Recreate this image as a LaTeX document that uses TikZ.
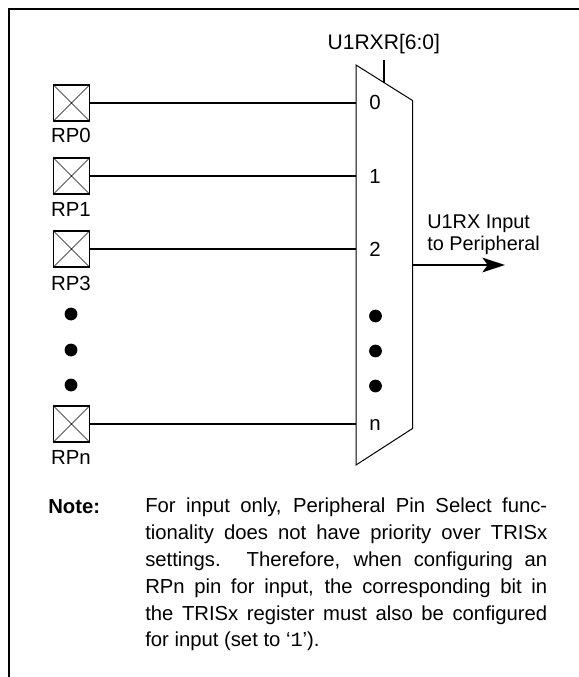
\documentclass[tikz,border=0pt]{standalone}
\usepackage{fontspec}
\setmainfont{Liberation Sans}
\newfontfamily\cmono{Liberation Mono}
\usetikzlibrary{arrows.meta}
\tikzset{
 x=0.75pt,y=-0.75pt,
 frameline/.style={line width=1.5pt,line cap=rect},
 wire/.style={line width=1.05pt},
 muxline/.style={line width=0.75pt,line join=miter},
 pinbox/.style={draw,line width=1.1pt,minimum width=27pt,minimum height=27pt,inner sep=0pt,outer sep=0pt,
   path picture={\draw[line width=0.5pt] (path picture bounding box.north west)--(path picture bounding box.south east)
   (path picture bounding box.north east)--(path picture bounding box.south west);}},
 pinlabel/.style={font=\fontsize{15.3pt}{17pt}\selectfont,inner sep=0pt,anchor=center},
 dotmark/.style={circle,fill=black,minimum size=9.6pt,inner sep=0pt,outer sep=0pt},
 muxlabel/.style={font=\fontsize{15.3pt}{17pt}\selectfont,inner sep=0pt},
 notetext/.style={font=\fontsize{15.2pt}{20.1pt}\selectfont,inner sep=0pt,anchor=north west,text width=301.5pt,align=justify},
}
\begin{document}
\begin{tikzpicture}
\useasboundingbox (0,0) rectangle (578,677);
\coordinate (ftl) at (9,9);
\coordinate (ftr) at (578,9);
\coordinate (fbl) at (9,677);
\draw[frameline] (ftr)--(ftl)--(fbl);
\coordinate (m1) at (356,65);
\coordinate (m2) at (412.5,100.5);
\coordinate (m3) at (412.5,428.5);
\coordinate (m4) at (356,465);
\node[pinbox] (p0) at (71.5,103) {};
\node[pinbox] (p1) at (71.5,176) {};
\node[pinbox] (p2) at (71.5,249) {};
\node[pinbox] (pn) at (71.5,424) {};
\node[pinlabel] (lp0) at (71,135) {RP0};
\node[pinlabel] (lp1) at (71,209) {RP1};
\node[pinlabel] (lp2) at (71,283) {RP3};
\node[pinlabel] (lpn) at (71,457.5) {RPn};
\node[dotmark] (d1) at (71,314) {};
\node[dotmark] (d2) at (71,350) {};
\node[dotmark] (d3) at (71,385) {};
\node[dotmark] (e1) at (375.5,316) {};
\node[dotmark] (e2) at (375.5,351) {};
\node[dotmark] (e3) at (375.5,386) {};
\node[muxlabel] (i0) at (375,102.5) {0};
\node[muxlabel] (i1) at (375,176) {1};
\node[muxlabel] (i2) at (375,249) {2};
\node[muxlabel] (in) at (375,425) {n};
\coordinate (w0) at (356,103);
\coordinate (w1) at (356,176);
\coordinate (w2) at (356,249);
\coordinate (wn) at (356,424);
\draw[wire] (p0.east)--(w0);
\draw[wire] (p1.east)--(w1);
\draw[wire] (p2.east)--(w2);
\draw[wire] (pn.east)--(wn);
\draw[muxline] (m1)--(m2)--(m3)--(m4)--cycle;
\node[muxlabel,anchor=center,font=\fontsize{15.8pt}{17pt}\selectfont] (sel) at (383.8,44) {U1RXR[6:0]};
\coordinate (s0) at (384,60);
\coordinate (s1) at (384,83);
\draw[wire] (s0)--(s1);
\coordinate (o0) at (412.5,265);
\coordinate (o1) at (505,265);
\draw[wire,-{Stealth[length=17pt,width=11pt,inset=4pt]}] (o0)--(o1);
\node[muxlabel,anchor=west,align=left,font=\fontsize{14.9pt}{16.8pt}\selectfont] (olab) at (427,235) {U1RX Input\\to Peripheral};
\node[font=\fontsize{15.2pt}{17pt}\selectfont\bfseries,inner sep=0pt,anchor=base west] (nt) at (48,513) {Note:};
\node[notetext] (body) at (145,498) {For input only, Peripheral Pin Select func-\linebreak
tionality does not have priority over TRISx\linebreak
settings. Therefore, when configuring an\linebreak
RPn pin for input, the corresponding bit in\linebreak
the TRISx register must also be configured\linebreak
for input (set to ‘{\cmono 1}’).};
\end{tikzpicture}
\end{document}
